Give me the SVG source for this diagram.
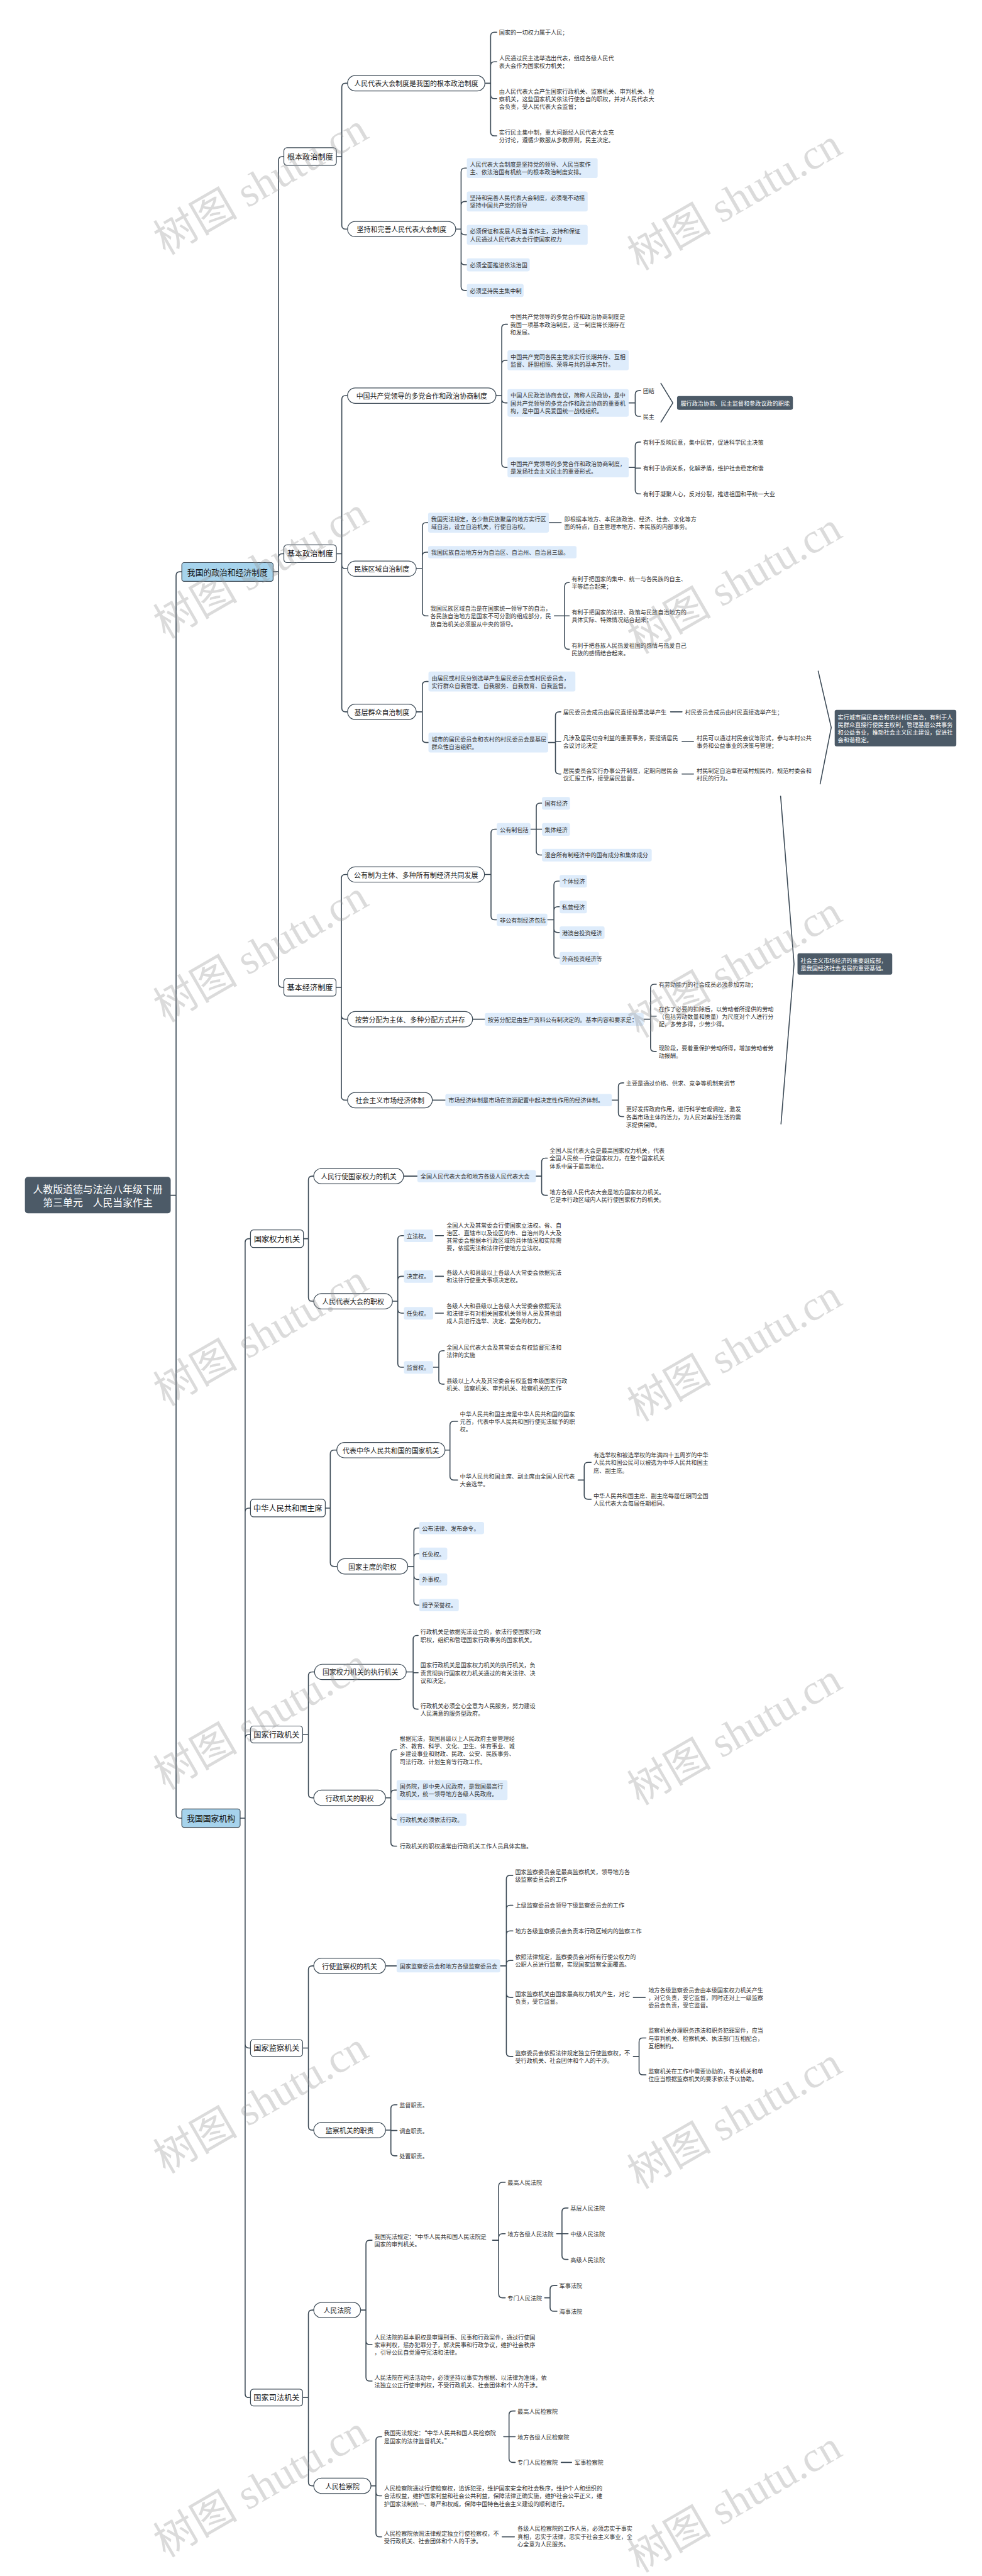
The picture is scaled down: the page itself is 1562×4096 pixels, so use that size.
<svg xmlns="http://www.w3.org/2000/svg" width="1562" height="4096" viewBox="0 0 1562 4096">
<style>
.c{fill:none;stroke:#3c4a56;stroke-width:2.6;stroke-linecap:round;stroke-linejoin:round}
.b2{fill:#fff;stroke:#3c4a56;stroke-width:2}
.b1{fill:#a6d3ec;stroke:#3c4a56;stroke-width:2}
.fb{fill:#deecfb}
.dk{fill:#4c5a67}
text{font-family:'Noto Sans CJK SC','Noto Sans',sans-serif;dominant-baseline:central}
.t{font-size:15px;fill:#333}
.m{font-size:18px;fill:#222;text-anchor:middle}
.h{font-size:20px;fill:#111;text-anchor:middle}
.w{font-size:15px;fill:#fff}
.r{font-size:26px;fill:#fff;text-anchor:middle}
.wm{font-family:'Liberation Serif','Noto Sans CJK SC',serif;font-size:110px;fill:#999;fill-opacity:0.35;text-anchor:middle}
</style>
<rect width="1562" height="4096" fill="#fff"/>
<g transform="scale(0.61016)">
<g id="connectors">
<path class="c" d="M445 3115H459 M459 3115V1500Q459 1490 469 1490H474 M459 3115V4728Q459 4738 469 4738H474"/>
<path class="c" d="M712 1490H726 M726 1490V418Q726 408 736 408H740 M726 1490V1453Q726 1443 736 1443H740 M726 1490V2563Q726 2573 736 2573H740"/>
<path class="c" d="M626 4738H639 M639 4738V3238Q639 3228 649 3228H653 M639 4738V3940Q639 3930 649 3930H653 M639 4738V4530Q639 4520 649 4520H653 M639 4738V5327Q639 5337 649 5337H653 M639 4738V6238Q639 6248 649 6248H653"/>
<path class="c" d="M877 408H891 M891 408V227Q891 217 901 217H906 M891 408V587Q891 597 901 597H906"/>
<path class="c" d="M1264 217H1279 M1279 217V94Q1279 84 1289 84H1295 M1279 217V171Q1279 161 1289 161H1295 M1279 217V247Q1279 257 1289 257H1295 M1279 217V344Q1279 354 1289 354H1295"/>
<path class="c" d="M1188 597H1202 M1202 597V448Q1202 438 1212 438H1217 M1202 597V535Q1202 525 1212 525H1217 M1202 597V602Q1202 612 1212 612H1217 M1202 597V680Q1202 690 1212 690H1217 M1202 597V747Q1202 757 1212 757H1217"/>
<path class="c" d="M877 1443H891 M891 1443V1041Q891 1031 901 1031H906 M891 1443V1472Q891 1482 901 1482H906 M891 1443V1845Q891 1855 901 1855H906"/>
<path class="c" d="M1293 1031H1308 M1308 1031V855Q1308 845 1318 845H1323 M1308 1031V949Q1308 939 1318 939H1323 M1308 1031V1040Q1308 1050 1318 1050H1323 M1308 1031V1208Q1308 1218 1318 1218H1323"/>
<path class="c" d="M1639 1050H1656 M1656 1050V1028Q1656 1018 1666 1018H1670 M1656 1050V1075Q1656 1085 1666 1085H1670"/>
<path class="c" d="M1639 1218H1656 M1656 1218V1162Q1656 1152 1666 1152H1670 M1656 1218V1220H1670 M1656 1218V1277Q1656 1287 1666 1287H1670"/>
<path class="c" d="M1085 1482H1101 M1101 1482V1372Q1101 1362 1111 1362H1116 M1101 1482V1449Q1101 1439 1111 1439H1116 M1101 1482V1595Q1101 1605 1111 1605H1116"/>
<path class="c" d="M1431 1362H1463"/>
<path class="c" d="M1445 1605H1472 M1472 1605V1528Q1472 1518 1482 1518H1484 M1472 1605H1484 M1472 1605V1682Q1472 1692 1482 1692H1484"/>
<path class="c" d="M1085 1855H1101 M1101 1855V1786Q1101 1776 1111 1776H1117 M1101 1855V1925Q1101 1935 1111 1935H1117"/>
<path class="c" d="M1429 1935H1448 M1448 1935V1865Q1448 1855 1458 1855H1462 M1448 1935V1932H1462 M1448 1935V2007Q1448 2017 1458 2017H1462"/>
<path class="c" d="M1748 1855H1778 M1778 1932H1808 M1778 2017H1808"/>
<path class="c" d="M876 2573H890 M890 2573V2289Q890 2279 900 2279H906 M890 2573V2646Q890 2656 900 2656H906 M890 2573V2857Q890 2867 900 2867H906"/>
<path class="c" d="M1263 2279H1280 M1280 2279V2171Q1280 2161 1290 2161H1295 M1280 2279V2387Q1280 2397 1290 2397H1295"/>
<path class="c" d="M1383 2161H1398 M1398 2161V2103Q1398 2093 1408 2093H1413 M1398 2161H1413 M1398 2161V2218Q1398 2228 1408 2228H1413"/>
<path class="c" d="M1427 2397H1444 M1444 2397V2306Q1444 2296 1454 2296H1459 M1444 2397V2373Q1444 2363 1454 2363H1459 M1444 2397V2420Q1444 2430 1454 2430H1459 M1444 2397V2487Q1444 2497 1454 2497H1459"/>
<path class="c" d="M1232 2656H1264"/>
<path class="c" d="M1678 2656H1696 M1696 2656V2575Q1696 2565 1706 2565H1711 M1696 2656V2648H1711 M1696 2656V2730Q1696 2740 1706 2740H1711"/>
<path class="c" d="M1127 2867H1161"/>
<path class="c" d="M1595 2867H1612 M1612 2867V2832Q1612 2822 1622 2822H1626 M1612 2867V2900Q1612 2910 1622 2910H1626"/>
<path class="c" d="M791 3228H804 M804 3228V3075Q804 3065 814 3065H818 M804 3228V3381Q804 3391 814 3391H818"/>
<path class="c" d="M1052 3065H1088"/>
<path class="c" d="M1397 3065H1412 M1412 3065V3028Q1412 3018 1422 3018H1427 M1412 3065V3105Q1412 3115 1422 3115H1427"/>
<path class="c" d="M1023 3391H1037 M1037 3391V3230Q1037 3220 1047 3220H1053 M1037 3391V3336Q1037 3326 1047 3326H1053 M1037 3391V3412Q1037 3422 1047 3422H1053 M1037 3391V3553Q1037 3563 1047 3563H1053"/>
<path class="c" d="M1135 3220H1156 M1135 3326H1156 M1135 3422H1156"/>
<path class="c" d="M1129 3563H1144 M1144 3563V3530Q1144 3520 1154 3520H1158 M1144 3563V3597Q1144 3607 1154 3607H1158"/>
<path class="c" d="M848 3930H861 M861 3930V3789Q861 3779 871 3779H878 M861 3930V4072Q861 4082 871 4082H879"/>
<path class="c" d="M1160 3779H1173 M1173 3779V3714Q1173 3704 1183 3704H1193 M1173 3779V3847Q1173 3857 1183 3857H1193"/>
<path class="c" d="M1507 3857H1523 M1523 3857V3821Q1523 3811 1533 3811H1541 M1523 3857V3897Q1523 3907 1533 3907H1541"/>
<path class="c" d="M1063 4082H1079 M1079 4082V3992Q1079 3982 1089 3982H1093 M1079 4082V4059Q1079 4049 1089 4049H1093 M1079 4082V4106Q1079 4116 1089 4116H1093 M1079 4082V4173Q1079 4183 1089 4183H1093"/>
<path class="c" d="M789 4520H804 M804 4520V4367Q804 4357 814 4357H820 M804 4520V4675Q804 4685 814 4685H818"/>
<path class="c" d="M1059 4357H1077 M1077 4357V4272Q1077 4262 1087 4262H1090 M1077 4357V4359H1090 M1077 4357V4444Q1077 4454 1087 4454H1090"/>
<path class="c" d="M1005 4685H1019 M1019 4685V4570Q1019 4560 1029 4560H1034 M1019 4685V4675Q1019 4665 1029 4665H1034 M1019 4685V4732Q1019 4742 1029 4742H1034 M1019 4685V4801Q1019 4811 1029 4811H1034"/>
<path class="c" d="M789 5337H804 M804 5337V5133Q804 5123 814 5123H818 M804 5337V5541Q804 5551 814 5551H818"/>
<path class="c" d="M1005 5123H1034"/>
<path class="c" d="M1304 5123H1320 M1320 5123V4897Q1320 4887 1330 4887H1337 M1320 5123V4975Q1320 4965 1330 4965H1337 M1320 5123V5042Q1320 5032 1330 5032H1337 M1320 5123V5119Q1320 5109 1330 5109H1337 M1320 5123V5195Q1320 5205 1330 5205H1337 M1320 5123V5349Q1320 5359 1330 5359H1337"/>
<path class="c" d="M1651 5205H1682"/>
<path class="c" d="M1651 5359H1666 M1666 5359V5321Q1666 5311 1676 5311H1684 M1666 5359V5397Q1666 5407 1676 5407H1684"/>
<path class="c" d="M1005 5551H1019 M1019 5551V5495Q1019 5485 1029 5485H1035 M1019 5551V5552H1035 M1019 5551V5608Q1019 5618 1029 5618H1035"/>
<path class="c" d="M789 6248H804 M804 6248V6030Q804 6020 814 6020H818 M804 6248V6468Q804 6478 814 6478H818"/>
<path class="c" d="M940 6020H954 M954 6020V5848Q954 5838 964 5838H970 M954 6020V6100Q954 6110 964 6110H970 M954 6020V6195Q954 6205 964 6205H970"/>
<path class="c" d="M1284 5838H1300 M1300 5838V5697Q1300 5687 1310 5687H1317 M1300 5838V5831Q1300 5821 1310 5821H1317 M1300 5838V5978Q1300 5988 1310 5988H1317"/>
<path class="c" d="M1451 5821H1465 M1465 5821V5764Q1465 5754 1475 5754H1481 M1465 5821H1481 M1465 5821V5878Q1465 5888 1475 5888H1481"/>
<path class="c" d="M1420 5988H1434 M1434 5988V5966Q1434 5956 1444 5956H1452 M1434 5988V6013Q1434 6023 1444 6023H1452"/>
<path class="c" d="M967 6478H980 M980 6478V6360Q980 6350 990 6350H995 M980 6478V6494Q980 6504 990 6504H995 M980 6478V6601Q980 6611 990 6611H995"/>
<path class="c" d="M1313 6350H1327 M1327 6350V6293Q1327 6283 1337 6283H1343 M1327 6350H1343 M1327 6350V6407Q1327 6417 1337 6417H1343"/>
<path class="c" d="M1463 6417H1490 M1309 6611H1341"/>
<path class="c" d="M1723 999L1754 1050L1723 1100"/>
<path class="c" d="M2133 1749L2167 1896L2138 2043"/>
<path class="c" d="M2035 2075L2070 2512L2036 2929"/>
</g>

<g id="root"><rect class="dk" x="65" y="3067" width="380" height="95" rx="8"/><text class="r" x="255" y="3098">人教版道德与法治八年级下册</text><text class="r" x="255" y="3132">第三单元　人民当家作主</text></g>
<g id="n-zhidu"><rect class="b1" x="474" y="1466" width="238" height="49" rx="6"/><text class="h" x="593" y="1490" style="font-size:21px">我国的政治和经济制度</text></g>
<g id="n-jigou"><rect class="b1" x="474" y="4714" width="152" height="48" rx="6"/><text class="h" x="550" y="4738" style="font-size:21px">我国国家机构</text></g>

<g id="n-genben"><rect class="b2" x="740" y="385" width="137" height="46" rx="8"/><text class="h" x="808.5" y="408">根本政治制度</text></g>
<g id="n-jbzz"><rect class="b2" x="740" y="1420" width="137" height="46" rx="8"/><text class="h" x="808.5" y="1443">基本政治制度</text></g>
<g id="n-jbjj"><rect class="b2" x="740" y="2550" width="136" height="46" rx="8"/><text class="h" x="808" y="2573">基本经济制度</text></g>
<g id="n-qlj"><rect class="b2" x="653" y="3205" width="138" height="46" rx="8"/><text class="h" x="722" y="3228">国家权力机关</text></g>
<g id="n-zx"><rect class="b2" x="653" y="3907" width="195" height="46" rx="8"/><text class="h" x="750.5" y="3930">中华人民共和国主席</text></g>
<g id="n-xz"><rect class="b2" x="653" y="4498" width="136" height="44" rx="8"/><text class="h" x="721" y="4520">国家行政机关</text></g>
<g id="n-jc"><rect class="b2" x="653" y="5315" width="136" height="44" rx="8"/><text class="h" x="721" y="5337">国家监察机关</text></g>
<g id="n-sf"><rect class="b2" x="653" y="6226" width="136" height="44" rx="8"/><text class="h" x="721" y="6248">国家司法机关</text></g>

<g id="p1"><rect class="b2" x="906" y="197" width="358" height="40" rx="20"/><text class="m" x="1085" y="217">人民代表大会制度是我国的根本政治制度</text></g>
<g id="p2"><rect class="b2" x="906" y="577" width="282" height="40" rx="20"/><text class="m" x="1047" y="597">坚持和完善人民代表大会制度</text></g>
<g id="p3"><rect class="b2" x="906" y="1011" width="387" height="40" rx="20"/><text class="m" x="1099.5" y="1031">中国共产党领导的多党合作和政治协商制度</text></g>
<g id="p4"><rect class="b2" x="906" y="1462" width="179" height="40" rx="20"/><text class="m" x="995.5" y="1482">民族区域自治制度</text></g>
<g id="p5"><rect class="b2" x="906" y="1835" width="179" height="40" rx="20"/><text class="m" x="995.5" y="1855">基层群众自治制度</text></g>
<g id="p6"><rect class="b2" x="906" y="2259" width="357" height="40" rx="20"/><text class="m" x="1084.5" y="2279">公有制为主体、多种所有制经济共同发展</text></g>
<g id="p7"><rect class="b2" x="906" y="2636" width="326" height="40" rx="20"/><text class="m" x="1069" y="2656">按劳分配为主体、多种分配方式并存</text></g>
<g id="p8"><rect class="b2" x="906" y="2847" width="221" height="40" rx="20"/><text class="m" x="1016.5" y="2867">社会主义市场经济体制</text></g>
<g id="p9"><rect class="b2" x="818" y="3045" width="234" height="40" rx="20"/><text class="m" x="935" y="3065">人民行使国家权力的机关</text></g>
<g id="p10"><rect class="b2" x="818" y="3371" width="205" height="40" rx="20"/><text class="m" x="920.5" y="3391">人民代表大会的职权</text></g>
<g id="p11"><rect class="b2" x="878" y="3759" width="282" height="40" rx="20"/><text class="m" x="1019" y="3779">代表中华人民共和国的国家机关</text></g>
<g id="p12"><rect class="b2" x="879" y="4062" width="184" height="40" rx="20"/><text class="m" x="971" y="4082">国家主席的职权</text></g>
<g id="p13"><rect class="b2" x="820" y="4337" width="239" height="40" rx="20"/><text class="m" x="939.5" y="4357">国家权力机关的执行机关</text></g>
<g id="p14"><rect class="b2" x="818" y="4665" width="187" height="40" rx="20"/><text class="m" x="911.5" y="4685">行政机关的职权</text></g>
<g id="p15"><rect class="b2" x="818" y="5103" width="187" height="40" rx="20"/><text class="m" x="911.5" y="5123">行使监察权的机关</text></g>
<g id="p16"><rect class="b2" x="818" y="5531" width="187" height="40" rx="20"/><text class="m" x="911.5" y="5551">监察机关的职责</text></g>
<g id="p17"><rect class="b2" x="818" y="6000" width="122" height="40" rx="20"/><text class="m" x="879" y="6020">人民法院</text></g>
<g id="p18"><rect class="b2" x="818" y="6458" width="149" height="40" rx="20"/><text class="m" x="892.5" y="6478">人民检察院</text></g>

<g id="f1"><rect class="fb" x="1217" y="412" width="341" height="52" rx="5"/><text class="t" x="1225" y="428"><tspan x="1225">人民代表大会制度是坚持党的领导、人民当家作</tspan><tspan x="1225" dy="20">主、依法治国有机统一的根本政治制度安排。</tspan></text></g>
<g id="f2"><rect class="fb" x="1217" y="499" width="315" height="52" rx="5"/><text class="t" x="1225" y="515"><tspan x="1225">坚持和完善人民代表大会制度，必须毫不动摇</tspan><tspan x="1225" dy="20">坚持中国共产党的领导</tspan></text></g>
<g id="f3"><rect class="fb" x="1217" y="586" width="315" height="52" rx="5"/><text class="t" x="1225" y="602"><tspan x="1225">必须保证和发展人民当 家作主，支持和保证</tspan><tspan x="1225" dy="20">人民通过人民代表大会行使国家权力</tspan></text></g>
<g id="f4"><rect class="fb" x="1217" y="673" width="164" height="34" rx="5"/><text class="t" x="1225" y="690">必须全面推进依法治国</text></g>
<g id="f5"><rect class="fb" x="1217" y="740" width="148" height="34" rx="5"/><text class="t" x="1225" y="757">必须坚持民主集中制</text></g>

<g id="l1"><text class="t" x="1301" y="84">国家的一切权力属于人民；</text></g>
<g id="l2"><text class="t" x="1301" y="151"><tspan x="1301">人民通过民主选举选出代表，组成各级人民代</tspan><tspan x="1301" dy="20">表大会作为国家权力机关；</tspan></text></g>
<g id="l3"><text class="t" x="1301" y="237"><tspan x="1301">由人民代表大会产生国家行政机关、监察机关、审判机关、检</tspan><tspan x="1301" dy="20">察机关，这些国家机关依法行使各自的职权，并对人民代表大</tspan><tspan x="1301" dy="20">会负责，受人民代表大会监督；</tspan></text></g>
<g id="l4"><text class="t" x="1301" y="344"><tspan x="1301">实行民主集中制，重大问题经人民代表大会充</tspan><tspan x="1301" dy="20">分讨论，遵循少数服从多数原则，民主决定。</tspan></text></g>

<g id="l5"><text class="t" x="1330" y="825"><tspan x="1330">中国共产党领导的多党合作和政治协商制度是</tspan><tspan x="1330" dy="20">我国一项基本政治制度，这一制度将长期存在</tspan><tspan x="1330" dy="20">和发展。</tspan></text></g>
<g id="f6"><rect class="fb" x="1323" y="913" width="316" height="52" rx="5"/><text class="t" x="1331" y="929"><tspan x="1331">中国共产党同各民主党派实行长期共存、互相</tspan><tspan x="1331" dy="20">监督、肝胆相照、荣辱与共的基本方针。</tspan></text></g>
<g id="f7"><rect class="fb" x="1323" y="1014" width="316" height="72" rx="5"/><text class="t" x="1331" y="1030"><tspan x="1331">中国人民政治协商会议，简称人民政协，是中</tspan><tspan x="1331" dy="20">国共产党领导的多党合作和政治协商的重要机</tspan><tspan x="1331" dy="20">构，是中国人民爱国统一战线组织。</tspan></text></g>
<g id="f8"><rect class="fb" x="1323" y="1192" width="316" height="52" rx="5"/><text class="t" x="1331" y="1208"><tspan x="1331">中国共产党领导的多党合作和政治协商制度，</tspan><tspan x="1331" dy="20">是发扬社会主义民主的重要形式。</tspan></text></g>
<g id="l6"><text class="t" x="1676" y="1018">团结</text></g>
<g id="l7"><text class="t" x="1676" y="1085">民主</text></g>
<g id="s1"><rect class="dk" x="1765" y="1032" width="302" height="36" rx="5"/><text class="w" x="1774" y="1050">履行政治协商、民主监督和参政议政的职能</text></g>
<g id="l8"><text class="t" x="1676" y="1152">有利于反映民意，集中民智，促进科学民主决策</text></g>
<g id="l9"><text class="t" x="1676" y="1220">有利于协调关系，化解矛盾，维护社会稳定和谐</text></g>
<g id="l10"><text class="t" x="1676" y="1287">有利于凝聚人心，反对分裂，推进祖国和平统一大业</text></g>

<g id="f9"><rect class="fb" x="1116" y="1336" width="315" height="52" rx="5"/><text class="t" x="1124" y="1352"><tspan x="1124">我国宪法规定，各少数民族聚居的地方实行区</tspan><tspan x="1124" dy="20">域自治，设立自治机关，行使自治权。</tspan></text></g>
<g id="l11"><text class="t" x="1471" y="1352"><tspan x="1471">即根据本地方、本民族政治、经济、社会、文化等方</tspan><tspan x="1471" dy="20">面的特点，自主管理本地方、本民族的内部事务。</tspan></text></g>
<g id="f10"><rect class="fb" x="1116" y="1423" width="387" height="32" rx="5"/><text class="t" x="1124" y="1439">我国民族自治地方分为自治区、自治州、自治县三级。</text></g>
<g id="l12"><text class="t" x="1122" y="1585"><tspan x="1122">我国民族区域自治是在国家统一领导下的自治，</tspan><tspan x="1122" dy="20">各民族自治地方是国家不可分割的组成部分，民</tspan><tspan x="1122" dy="20">族自治机关必须服从中央的领导。</tspan></text></g>
<g id="l13"><text class="t" x="1490" y="1508"><tspan x="1490">有利于把国家的集中、统一与各民族的自主、</tspan><tspan x="1490" dy="20">平等结合起来；</tspan></text></g>
<g id="l14"><text class="t" x="1490" y="1595"><tspan x="1490">有利于把国家的法律、政策与民族自治地方的</tspan><tspan x="1490" dy="20">具体实际、特殊情况结合起来；</tspan></text></g>
<g id="l15"><text class="t" x="1490" y="1682"><tspan x="1490">有利于把各族人民热爱祖国的感情与热爱自己</tspan><tspan x="1490" dy="20">民族的感情结合起来。</tspan></text></g>

<g id="f11"><rect class="fb" x="1117" y="1750" width="383" height="52" rx="5"/><text class="t" x="1125" y="1766"><tspan x="1125">由居民或村民分别选举产生居民委员会或村民委员会，</tspan><tspan x="1125" dy="20">实行群众自我管理、自我服务、自我教育、自我监督。</tspan></text></g>
<g id="f12"><rect class="fb" x="1117" y="1909" width="312" height="52" rx="5"/><text class="t" x="1125" y="1925"><tspan x="1125">城市的居民委员会和农村的村民委员会是基层</tspan><tspan x="1125" dy="20">群众性自治组织。</tspan></text></g>
<g id="l16"><text class="t" x="1468" y="1855">居民委员会成员由居民直接投票选举产生</text></g>
<g id="l17"><text class="t" x="1786" y="1855">村民委员会成员由村民直接选举产生；</text></g>
<g id="l18"><text class="t" x="1468" y="1922"><tspan x="1468">凡涉及居民切身利益的重要事务，要提请居民</tspan><tspan x="1468" dy="20">会议讨论决定</tspan></text></g>
<g id="l19"><text class="t" x="1816" y="1922"><tspan x="1816">村民可以通过村民会议等形式，参与本村公共</tspan><tspan x="1816" dy="20">事务和公益事业的决策与管理；</tspan></text></g>
<g id="l20"><text class="t" x="1468" y="2007"><tspan x="1468">居民委员会实行办事公开制度，定期向居民会</tspan><tspan x="1468" dy="20">议汇报工作，接受居民监督。</tspan></text></g>
<g id="l21"><text class="t" x="1816" y="2007"><tspan x="1816">村民制定自治章程或村规民约，规范村委会和</tspan><tspan x="1816" dy="20">村民的行为。</tspan></text></g>
<g id="s2"><rect class="dk" x="2176" y="1850" width="317" height="95" rx="5"/><text class="w" x="2184" y="1868"><tspan x="2184">实行城市居民自治和农村村民自治，有利于人</tspan><tspan x="2184" dy="20">民群众直接行使民主权利，管理基层公共事务</tspan><tspan x="2184" dy="20">和公益事业，推动社会主义民主建设，促进社</tspan><tspan x="2184" dy="20">会和谐稳定。</tspan></text></g>

<g id="f13"><rect class="fb" x="1295" y="2145" width="88" height="32" rx="5"/><text class="t" x="1303" y="2161">公有制包括</text></g>
<g id="f14"><rect class="fb" x="1413" y="2077" width="73" height="33" rx="5"/><text class="t" x="1420" y="2093">国有经济</text></g>
<g id="f15"><rect class="fb" x="1413" y="2145" width="73" height="33" rx="5"/><text class="t" x="1420" y="2161">集体经济</text></g>
<g id="f16"><rect class="fb" x="1413" y="2212" width="286" height="33" rx="5"/><text class="t" x="1420" y="2228">混合所有制经济中的国有成分和集体成分</text></g>
<g id="f17"><rect class="fb" x="1295" y="2381" width="132" height="32" rx="5"/><text class="t" x="1303" y="2397">非公有制经济包括</text></g>
<g id="f18"><rect class="fb" x="1459" y="2280" width="71" height="33" rx="5"/><text class="t" x="1465" y="2296">个体经济</text></g>
<g id="f19"><rect class="fb" x="1459" y="2347" width="71" height="33" rx="5"/><text class="t" x="1465" y="2363">私营经济</text></g>
<g id="f20"><rect class="fb" x="1459" y="2414" width="117" height="33" rx="5"/><text class="t" x="1465" y="2430">港澳台投资经济</text></g>
<g id="f21"><rect class="fb" x="1459" y="2481" width="103" height="33" rx="5"/><text class="t" x="1465" y="2497">外商投资经济等</text></g>
<g id="s3"><rect class="dk" x="2079" y="2484" width="247" height="56" rx="5"/><text class="w" x="2087" y="2502"><tspan x="2087">社会主义市场经济的重要组成部，</tspan><tspan x="2087" dy="20">是我国经济社会发展的重要基础。</tspan></text></g>

<g id="f22"><rect class="fb" x="1264" y="2640" width="414" height="33" rx="5"/><text class="t" x="1272" y="2656">按劳分配是由生产资料公有制决定的。基本内容和要求是：</text></g>
<g id="l22"><text class="t" x="1717" y="2565">有劳动能力的社会成员必须参加劳动；</text></g>
<g id="l23"><text class="t" x="1717" y="2628"><tspan x="1717">在作了必要的扣除后，以劳动者所提供的劳动</tspan><tspan x="1717" dy="20">（包括劳动数量和质量）为尺度对个人进行分</tspan><tspan x="1717" dy="20">配，多劳多得，少劳少得。</tspan></text></g>
<g id="l24"><text class="t" x="1717" y="2730"><tspan x="1717">现阶段，要着重保护劳动所得，增加劳动者劳</tspan><tspan x="1717" dy="20">动报酬。</tspan></text></g>
<g id="f23"><rect class="fb" x="1161" y="2851" width="434" height="32" rx="5"/><text class="t" x="1169" y="2867">市场经济体制是市场在资源配置中起决定性作用的经济体制。</text></g>
<g id="l25"><text class="t" x="1632" y="2822">主要是通过价格、供求、竞争等机制来调节</text></g>
<g id="l26"><text class="t" x="1632" y="2890"><tspan x="1632">更好发挥政府作用，进行科学宏观调控，激发</tspan><tspan x="1632" dy="20">各类市场主体的活力，为人民对美好生活的需</tspan><tspan x="1632" dy="20">求提供保障。</tspan></text></g>

<g id="f24"><rect class="fb" x="1088" y="3049" width="309" height="32" rx="5"/><text class="t" x="1096" y="3065">全国人民代表大会和地方各级人民代表大会</text></g>
<g id="l27"><text class="t" x="1433" y="2998"><tspan x="1433">全国人民代表大会是最高国家权力机关，代表</tspan><tspan x="1433" dy="20">全国人民统一行使国家权力，在整个国家机关</tspan><tspan x="1433" dy="20">体系中居于最高地位。</tspan></text></g>
<g id="l28"><text class="t" x="1433" y="3105"><tspan x="1433">地方各级人民代表大会是地方国家权力机关。</tspan><tspan x="1433" dy="20">它是本行政区域内人民行使国家权力的机关。</tspan></text></g>
<g id="f25"><rect class="fb" x="1053" y="3204" width="76" height="33" rx="5"/><text class="t" x="1060" y="3220">立法权。</text></g>
<g id="f26"><rect class="fb" x="1053" y="3310" width="76" height="33" rx="5"/><text class="t" x="1060" y="3326">决定权。</text></g>
<g id="f27"><rect class="fb" x="1053" y="3406" width="76" height="33" rx="5"/><text class="t" x="1060" y="3422">任免权。</text></g>
<g id="f28"><rect class="fb" x="1053" y="3547" width="76" height="33" rx="5"/><text class="t" x="1060" y="3563">监督权。</text></g>
<g id="l29"><text class="t" x="1164" y="3192"><tspan x="1164">全国人大及其常委会行使国家立法权。省、自</tspan><tspan x="1164" dy="20">治区、直辖市以及设区的市、自治州的人大及</tspan><tspan x="1164" dy="20">其常委会根据本行政区域的具体情况和实际需</tspan><tspan x="1164" dy="20">要，依据宪法和法律行使地方立法权。</tspan></text></g>
<g id="l30"><text class="t" x="1164" y="3316"><tspan x="1164">各级人大和县级以上各级人大常委会依据宪法</tspan><tspan x="1164" dy="20">和法律行使重大事项决定权。</tspan></text></g>
<g id="l31"><text class="t" x="1164" y="3402"><tspan x="1164">各级人大和县级以上各级人大常委会依据宪法</tspan><tspan x="1164" dy="20">和法律享有对相关国家机关领导人员及其他组</tspan><tspan x="1164" dy="20">成人员进行选举、决定、罢免的权力。</tspan></text></g>
<g id="l32"><text class="t" x="1164" y="3510"><tspan x="1164">全国人民代表大会及其常委会有权监督宪法和</tspan><tspan x="1164" dy="20">法律的实施</tspan></text></g>
<g id="l33"><text class="t" x="1164" y="3597"><tspan x="1164">县级以上人大及其常委会有权监督本级国家行政</tspan><tspan x="1164" dy="20">机关、监察机关、审判机关、检察机关的工作</tspan></text></g>

<g id="l34"><text class="t" x="1199" y="3684"><tspan x="1199">中华人民共和国主席是中华人民共和国的国家</tspan><tspan x="1199" dy="20">元首，代表中华人民共和国行使宪法赋予的职</tspan><tspan x="1199" dy="20">权。</tspan></text></g>
<g id="l35"><text class="t" x="1199" y="3847"><tspan x="1199">中华人民共和国主席、副主席由全国人民代表</tspan><tspan x="1199" dy="20">大会选举。</tspan></text></g>
<g id="l36"><text class="t" x="1547" y="3791"><tspan x="1547">有选举权和被选举权的年满四十五周岁的中华</tspan><tspan x="1547" dy="20">人民共和国公民可以被选为中华人民共和国主</tspan><tspan x="1547" dy="20">席、副主席。</tspan></text></g>
<g id="l37"><text class="t" x="1547" y="3897"><tspan x="1547">中华人民共和国主席、副主席每届任期同全国</tspan><tspan x="1547" dy="20">人民代表大会每届任期相同。</tspan></text></g>
<g id="f29"><rect class="fb" x="1093" y="3966" width="169" height="32" rx="5"/><text class="t" x="1100" y="3982">公布法律、发布命令。</text></g>
<g id="f30"><rect class="fb" x="1093" y="4033" width="73" height="32" rx="5"/><text class="t" x="1100" y="4049">任免权。</text></g>
<g id="f31"><rect class="fb" x="1093" y="4100" width="73" height="32" rx="5"/><text class="t" x="1100" y="4116">外事权。</text></g>
<g id="f32"><rect class="fb" x="1093" y="4167" width="103" height="32" rx="5"/><text class="t" x="1100" y="4183">授予荣誉权。</text></g>

<g id="l38"><text class="t" x="1096" y="4252"><tspan x="1096">行政机关是依据宪法设立的，依法行使国家行政</tspan><tspan x="1096" dy="20">职权，组织和管理国家行政事务的国家机关。</tspan></text></g>
<g id="l39"><text class="t" x="1096" y="4339"><tspan x="1096">国家行政机关是国家权力机关的执行机关，负</tspan><tspan x="1096" dy="20">责贯彻执行国家权力机关通过的有关法律、决</tspan><tspan x="1096" dy="20">议和决定。</tspan></text></g>
<g id="l40"><text class="t" x="1096" y="4444"><tspan x="1096">行政机关必须全心全意为人民服务，努力建设</tspan><tspan x="1096" dy="20">人民满意的服务型政府。</tspan></text></g>
<g id="l41"><text class="t" x="1042" y="4530"><tspan x="1042">根据宪法，我国县级以上人民政府主要管理经</tspan><tspan x="1042" dy="20">济、教育、科学、文化、卫生、体育事业、城</tspan><tspan x="1042" dy="20">乡建设事业和财政、民政、公安、民族事务、</tspan><tspan x="1042" dy="20">司法行政、计划生育等行政工作。</tspan></text></g>
<g id="f33"><rect class="fb" x="1034" y="4639" width="289" height="52" rx="5"/><text class="t" x="1042" y="4655"><tspan x="1042">国务院，即中央人民政府，是我国最高行</tspan><tspan x="1042" dy="20">政机关，统一领导地方各级人民政府。</tspan></text></g>
<g id="f34"><rect class="fb" x="1034" y="4726" width="182" height="32" rx="5"/><text class="t" x="1042" y="4742">行政机关必须依法行政。</text></g>
<g id="l42"><text class="t" x="1042" y="4811">行政机关的职权通常由行政机关工作人员具体实施。</text></g>

<g id="f35"><rect class="fb" x="1034" y="5106" width="270" height="34" rx="5"/><text class="t" x="1042" y="5123">国家监察委员会和地方各级监察委员会</text></g>
<g id="l43"><text class="t" x="1343" y="4877"><tspan x="1343">国家监察委员会是最高监察机关，领导地方各</tspan><tspan x="1343" dy="20">级监察委员会的工作</tspan></text></g>
<g id="l44"><text class="t" x="1343" y="4965">上级监察委员会领导下级监察委员会的工作</text></g>
<g id="l45"><text class="t" x="1343" y="5032">地方各级监察委员会负责本行政区域内的监察工作</text></g>
<g id="l46"><text class="t" x="1343" y="5099"><tspan x="1343">依照法律规定，监察委员会对所有行使公权力的</tspan><tspan x="1343" dy="20">公职人员进行监察，实现国家监察全面覆盖。</tspan></text></g>
<g id="l47"><text class="t" x="1343" y="5195"><tspan x="1343">国家监察机关由国家最高权力机关产生，对它</tspan><tspan x="1343" dy="20">负责，受它监督。</tspan></text></g>
<g id="l48"><text class="t" x="1690" y="5185"><tspan x="1690">地方各级监察委员会由本级国家权力机关产生</tspan><tspan x="1690" dy="20">，对它负责，受它监督，同时还对上一级监察</tspan><tspan x="1690" dy="20">委员会负责，受它监督。</tspan></text></g>
<g id="l49"><text class="t" x="1343" y="5349"><tspan x="1343">监察委员会依照法律规定独立行使监察权，不</tspan><tspan x="1343" dy="20">受行政机关、社会团体和个人的干涉。</tspan></text></g>
<g id="l50"><text class="t" x="1690" y="5291"><tspan x="1690">监察机关办理职务违法和职务犯罪案件，应当</tspan><tspan x="1690" dy="20">与审判机关、检察机关、执法部门互相配合，</tspan><tspan x="1690" dy="20">互相制约。</tspan></text></g>
<g id="l51"><text class="t" x="1690" y="5397"><tspan x="1690">监察机关在工作中需要协助的，有关机关和单</tspan><tspan x="1690" dy="20">位应当根据监察机关的要求依法予以协助。</tspan></text></g>
<g id="l52"><text class="t" x="1041" y="5485">监督职责。</text></g>
<g id="l53"><text class="t" x="1041" y="5552">调查职责。</text></g>
<g id="l54"><text class="t" x="1041" y="5618">处置职责。</text></g>

<g id="l55"><text class="t" x="976" y="5828"><tspan x="976">我国宪法规定：“中华人民共和国人民法院是</tspan><tspan x="976" dy="20">国家的审判机关。</tspan></text></g>
<g id="l56"><text class="t" x="1323" y="5687">最高人民法院</text></g>
<g id="l57"><text class="t" x="1323" y="5821">地方各级人民法院</text></g>
<g id="l58"><text class="t" x="1487" y="5754">基层人民法院</text></g>
<g id="l59"><text class="t" x="1487" y="5821">中级人民法院</text></g>
<g id="l60"><text class="t" x="1487" y="5888">高级人民法院</text></g>
<g id="l61"><text class="t" x="1323" y="5988">专门人民法院</text></g>
<g id="l62"><text class="t" x="1458" y="5956">军事法院</text></g>
<g id="l63"><text class="t" x="1458" y="6023">海事法院</text></g>
<g id="l64"><text class="t" x="976" y="6090"><tspan x="976">人民法院的基本职权是审理刑事、民事和行政案件，通过行使国</tspan><tspan x="976" dy="20">家审判权，惩办犯罪分子，解决民事和行政争议，维护社会秩序</tspan><tspan x="976" dy="20">，引导公民自觉遵守宪法和法律。</tspan></text></g>
<g id="l65"><text class="t" x="976" y="6195"><tspan x="976">人民法院在司法活动中，必须坚持以事实为根据、以法律为准绳，依</tspan><tspan x="976" dy="20">法独立公正行使审判权，不受行政机关、社会团体和个人的干涉。</tspan></text></g>
<g id="l66"><text class="t" x="1001" y="6340"><tspan x="1001">我国宪法规定：“中华人民共和国人民检察院</tspan><tspan x="1001" dy="20">是国家的法律监督机关。”</tspan></text></g>
<g id="l67"><text class="t" x="1349" y="6283">最高人民检察院</text></g>
<g id="l68"><text class="t" x="1349" y="6350">地方各级人民检察院</text></g>
<g id="l69"><text class="t" x="1349" y="6417">专门人民检察院</text></g>
<g id="l70"><text class="t" x="1498" y="6417">军事检察院</text></g>
<g id="l71"><text class="t" x="1001" y="6484"><tspan x="1001">人民检察院通过行使检察权，追诉犯罪，维护国家安全和社会秩序，维护个人和组织的</tspan><tspan x="1001" dy="20">合法权益，维护国家利益和社会公共利益，保障法律正确实施，维护社会公平正义，维</tspan><tspan x="1001" dy="20">护国家法制统一、尊严和权威，保障中国特色社会主义建设的顺利进行。</tspan></text></g>
<g id="l72"><text class="t" x="1001" y="6601"><tspan x="1001">人民检察院依照法律规定独立行使检察权，不</tspan><tspan x="1001" dy="20">受行政机关、社会团体和个人的干涉。</tspan></text></g>
<g id="l73"><text class="t" x="1349" y="6589"><tspan x="1349">各级人民检察院的工作人员，必须忠实于事实</tspan><tspan x="1349" dy="20">真相，忠实于法律，忠实于社会主义事业，全</tspan><tspan x="1349" dy="20">心全意为人民服务。</tspan></text></g>

<g id="watermark">
<text class="wm" x="680" y="480" transform="rotate(-30 680 480)">树图 shutu.cn</text>
<text class="wm" x="1915" y="520" transform="rotate(-30 1915 520)">树图 shutu.cn</text>
<text class="wm" x="680" y="1480" transform="rotate(-30 680 1480)">树图 shutu.cn</text>
<text class="wm" x="1915" y="1520" transform="rotate(-30 1915 1520)">树图 shutu.cn</text>
<text class="wm" x="680" y="2480" transform="rotate(-30 680 2480)">树图 shutu.cn</text>
<text class="wm" x="1915" y="2520" transform="rotate(-30 1915 2520)">树图 shutu.cn</text>
<text class="wm" x="680" y="3480" transform="rotate(-30 680 3480)">树图 shutu.cn</text>
<text class="wm" x="1915" y="3520" transform="rotate(-30 1915 3520)">树图 shutu.cn</text>
<text class="wm" x="680" y="4480" transform="rotate(-30 680 4480)">树图 shutu.cn</text>
<text class="wm" x="1915" y="4520" transform="rotate(-30 1915 4520)">树图 shutu.cn</text>
<text class="wm" x="680" y="5480" transform="rotate(-30 680 5480)">树图 shutu.cn</text>
<text class="wm" x="1915" y="5520" transform="rotate(-30 1915 5520)">树图 shutu.cn</text>
<text class="wm" x="680" y="6480" transform="rotate(-30 680 6480)">树图 shutu.cn</text>
<text class="wm" x="1915" y="6520" transform="rotate(-30 1915 6520)">树图 shutu.cn</text>
</g>
</g>
</svg>
